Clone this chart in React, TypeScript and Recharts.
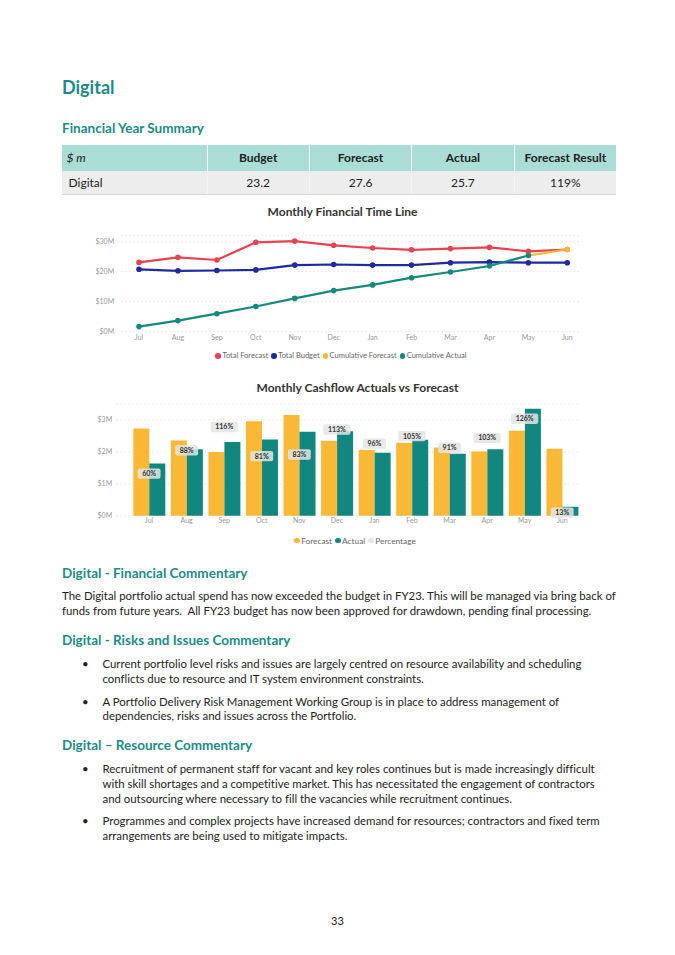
import React from "react";
import {
  LineChart,
  Line,
  ComposedChart,
  Bar,
  XAxis,
  YAxis,
  CartesianGrid,
  Legend,
  LabelList,
} from "recharts";

const months = ["Jul", "Aug", "Sep", "Oct", "Nov", "Dec", "Jan", "Feb", "Mar", "Apr", "May", "Jun"];

// Monthly Financial Time Line ($M)
const totalForecast = [23.1, 24.8, 23.9, 29.8, 30.2, 28.8, 27.9, 27.3, 27.7, 28.1, 26.8, 27.4];
const totalBudget = [20.8, 20.3, 20.4, 20.6, 22.2, 22.4, 22.2, 22.2, 23.0, 23.2, 23.0, 23.0];
const cumulativeForecast = [null, null, null, null, null, null, null, null, null, null, 25.4, 27.4];
const cumulativeActual = [1.7, 3.7, 6.0, 8.4, 11.1, 13.7, 15.6, 18.0, 19.9, 21.9, 25.4, null];

// Monthly Cashflow ($M)
const monthlyForecast = [2.73, 2.36, 2.0, 2.96, 3.16, 2.35, 2.06, 2.29, 2.14, 2.01, 2.66, 2.1];
const monthlyActual = [1.64, 2.08, 2.31, 2.39, 2.63, 2.65, 1.97, 2.38, 1.94, 2.08, 3.35, 0.28];
const percentage = [60, 88, 116, 81, 83, 113, 96, 105, 91, 103, 126, 13];

const summaryHeaders = ["$ m", "Budget", "Forecast", "Actual", "Forecast Result"];
const summaryRow = ["Digital", "23.2", "27.6", "25.7", "119%"];

const financialLines = [
  "The Digital portfolio actual spend has now exceeded the budget in FY23. This will be managed via bring back of",
  "funds from future years.  All FY23 budget has now been approved for drawdown, pending final processing.",
];
const riskBullets = [
  [
    "Current portfolio level risks and issues are largely centred on resource availability and scheduling",
    "conflicts due to resource and IT system environment constraints.",
  ],
  [
    "A Portfolio Delivery Risk Management Working Group is in place to address management of",
    "dependencies, risks and issues across the Portfolio.",
  ],
];
const resourceBullets = [
  [
    "Recruitment of permanent staff for vacant and key roles continues but is made increasingly difficult",
    "with skill shortages and a competitive market. This has necessitated the engagement of contractors",
    "and outsourcing where necessary to fill the vacancies while recruitment continues.",
  ],
  [
    "Programmes and complex projects have increased demand for resources; contractors and fixed term",
    "arrangements are being used to mitigate impacts.",
  ],
];

const timelineData = months.map((m, i) => ({
  month: m,
  totalForecast: totalForecast[i],
  totalBudget: totalBudget[i],
  cumulativeForecast: cumulativeForecast[i],
  cumulativeActual: cumulativeActual[i],
}));

const cashflowData = months.map((m, i) => ({
  month: m,
  forecast: monthlyForecast[i],
  actual: monthlyActual[i],
  pct: percentage[i],
}));

const FONT = "Lato, 'Noto Sans', sans-serif";
const TEAL_TEXT = "#1b8b88";
const RED = "#e8424f";
const NAVY = "#1e2a9e";
const YELLOW = "#f9b936";
const TEAL = "#16897e";
const BAR_TEAL = "#128780";

const tickStyle = { fontSize: 7, fill: "#999", fontFamily: FONT };

function LegendRow({ items, fontSize }: { items: { label: string; color: string }[]; fontSize: number }) {
  return (
    <div
      style={{
        display: "flex",
        justifyContent: "center",
        alignItems: "center",
        fontFamily: FONT,
        fontSize,
        color: "#666",
        lineHeight: "10px",
        whiteSpace: "nowrap",
      }}
    >
      {items.map((it) => (
        <span key={it.label} style={{ display: "inline-flex", alignItems: "center", marginRight: 3 }}>
          <span
            style={{
              display: "inline-block",
              width: 5.5,
              height: 5.5,
              borderRadius: "50%",
              background: it.color,
              marginRight: 1.5,
            }}
          />
          {it.label}
        </span>
      ))}
    </div>
  );
}

const PctLabel = (props: any) => {
  const x = props.x ?? props.viewBox?.x;
  const y = props.y ?? props.viewBox?.y;
  if (x == null || y == null) return null;
  const text = `${props.value}%`;
  const w = text.length * 4.3 + 10;
  return (
    <g>
      <rect x={x - w / 2} y={y - 5.2} width={w} height={10.4} rx={2} fill="#e4e4e4" fillOpacity={0.85} />
      <text x={x} y={y + 2.4} textAnchor="middle" fontSize={7} fontWeight={700} fill="#333" fontFamily={FONT}>
        {text}
      </text>
    </g>
  );
};

function TextLine({ top, left, text, size = 11.4, bold = false, color = "#222" }: any) {
  return (
    <div
      style={{
        position: "absolute",
        top,
        left,
        fontFamily: FONT,
        fontSize: size,
        fontWeight: bold ? 700 : 400,
        color,
        lineHeight: "15px",
        whiteSpace: "pre",
        fontVariantLigatures: "none",
      }}
    >
      {text}
    </div>
  );
}

function Bullets({ groups, startTop }: { groups: string[][]; startTop: number[] }) {
  return (
    <>
      {groups.map((lines, gi) => (
        <React.Fragment key={gi}>
          <TextLine top={startTop[gi]} left={82} text="•" />
          {lines.map((l, li) => (
            <TextLine key={li} top={startTop[gi] + li * 14.6} left={102.5} text={l} />
          ))}
        </React.Fragment>
      ))}
    </>
  );
}

const colWidths = [145, 102.4, 102.4, 102.4, 102.4];

export default function App() {
  return (
    <div style={{ position: "absolute", left: 0, top: 0, width: 675, height: 955, background: "#fff", overflow: "hidden" }}>
      {/* headings */}
      <TextLine top={80} left={62} text="Digital" size={18} bold color={TEAL_TEXT} />
      <TextLine top={121} left={62} text="Financial Year Summary" size={13.5} bold color={TEAL_TEXT} />

      {/* summary table */}
      <div style={{ position: "absolute", left: 61.5, top: 145, width: 554.6, fontFamily: FONT, fontSize: 12, color: "#222", borderBottom: "1px solid #d4d4d4" }}>
        <div style={{ display: "flex", height: 25.7, background: "#a9ddd5" }}>
          {summaryHeaders.map((h, i) => (
            <div
              key={h}
              style={{
                width: colWidths[i],
                display: "flex",
                alignItems: "center",
                justifyContent: i === 0 ? "flex-start" : "center",
                paddingLeft: i === 0 ? 5 : 0,
                boxSizing: "border-box",
                fontWeight: i === 0 ? 400 : 700,
                fontStyle: i === 0 ? "italic" : "normal",
                borderLeft: i === 0 ? "none" : "1px solid #ffffff",
              }}
            >
              {h}
            </div>
          ))}
        </div>
        <div style={{ display: "flex", height: 23.3, background: "#ededed" }}>
          {summaryRow.map((v, i) => (
            <div
              key={i}
              style={{
                width: colWidths[i],
                display: "flex",
                alignItems: "center",
                justifyContent: i === 0 ? "flex-start" : "center",
                paddingLeft: i === 0 ? 7 : 0,
                boxSizing: "border-box",
                borderLeft: i === 0 ? "none" : "1px solid #f6f6f6",
              }}
            >
              {v}
            </div>
          ))}
        </div>
      </div>

      {/* line chart */}
      <div style={{ position: "absolute", left: 0, top: 204.5, width: 675, textAlign: "center", fontFamily: FONT, fontSize: 12, fontWeight: 700, color: "#333", lineHeight: "14px", paddingLeft: 10, boxSizing: "border-box" }}>
        Monthly Financial Time Line
      </div>
      <div style={{ position: "absolute", left: 0, top: 225 }}>
        <LineChart width={675} height={140} data={timelineData} margin={{ top: 10.7, right: 95, bottom: 18.3, left: 81.7 }}>
          <CartesianGrid vertical={false} stroke="#d6d6d6" strokeDasharray="1 3" />
          <XAxis
            dataKey="month"
            height={15}
            padding={{ left: 17.3, right: 12.7 }}
            axisLine={false}
            tickLine={false}
            tickSize={0}
            tickMargin={3.5}
            tick={tickStyle}
            interval={0}
          />
          <YAxis
            width={40}
            domain={[0, 32]}
            ticks={[0, 10, 20, 30]}
            tickFormatter={(v) => `$${v}M`}
            axisLine={false}
            tickLine={false}
            tickSize={0}
            tickMargin={7.5}
            tick={tickStyle}
          />
          <Legend
            verticalAlign="middle"
            align="center"
            wrapperStyle={{ top: 126, left: 0, width: 675 }}
            content={() => (
              <div style={{ paddingLeft: 10 }}>
                <LegendRow
                  fontSize={7.5}
                  items={[
                    { label: "Total Forecast", color: RED },
                    { label: "Total Budget", color: NAVY },
                    { label: "Cumulative Forecast", color: YELLOW },
                    { label: "Cumulative Actual", color: TEAL },
                  ]}
                />
              </div>
            )}
          />
          <Line dataKey="totalForecast" stroke={RED} strokeWidth={2.2} dot={{ r: 2.8, fill: RED, strokeWidth: 0 }} isAnimationActive={false} />
          <Line dataKey="totalBudget" stroke={NAVY} strokeWidth={2.2} dot={{ r: 2.8, fill: NAVY, strokeWidth: 0 }} isAnimationActive={false} />
          <Line dataKey="cumulativeForecast" stroke={YELLOW} strokeWidth={2.2} dot={{ r: 2.8, fill: YELLOW, strokeWidth: 0 }} isAnimationActive={false} />
          <Line dataKey="cumulativeActual" stroke={TEAL} strokeWidth={2.2} dot={{ r: 2.8, fill: TEAL, strokeWidth: 0 }} isAnimationActive={false} />
        </LineChart>
      </div>

      {/* bar chart */}
      <div style={{ position: "absolute", left: 0, top: 381, width: 675, textAlign: "center", fontFamily: FONT, fontSize: 12, fontWeight: 700, color: "#333", lineHeight: "14px", paddingLeft: 40, boxSizing: "border-box" }}>
        Monthly Cashflow Actuals vs Forecast
      </div>
      <div style={{ position: "absolute", left: 0, top: 400 }}>
        <ComposedChart
          width={675}
          height={150}
          data={cashflowData}
          margin={{ top: 4.05, right: 94, bottom: 20.3, left: 76.7 }}
          barCategoryGap={3}
          barGap={0}
        >
          <CartesianGrid vertical={false} stroke="#d6d6d6" strokeDasharray="1 3" />
          <XAxis
            dataKey="month"
            height={14}
            padding={{ left: 13.6, right: 0 }}
            axisLine={false}
            tickLine={false}
            tickSize={0}
            tickMargin={2.5}
            tick={tickStyle}
            interval={0}
          />
          <YAxis
            width={40}
            domain={[0, 3.5]}
            ticks={[0, 1, 2, 3]}
            tickFormatter={(v) => `$${v}M`}
            axisLine={false}
            tickLine={false}
            tickSize={0}
            tickMargin={4.5}
            tick={tickStyle}
          />
          <YAxis yAxisId="pct" orientation="right" hide domain={[9.4, 143.6]} allowDataOverflow />
          <Legend
            verticalAlign="middle"
            align="center"
            wrapperStyle={{ top: 135.5, left: 0, width: 675 }}
            content={() => (
              <div style={{ paddingLeft: 38 }}>
                <LegendRow
                  fontSize={8.3}
                  items={[
                    { label: "Forecast", color: YELLOW },
                    { label: "Actual", color: BAR_TEAL },
                    { label: "Percentage", color: "#e6e6e6" },
                  ]}
                />
              </div>
            )}
          />
          <Bar dataKey="forecast" fill={YELLOW} isAnimationActive={false} />
          <Bar dataKey="actual" fill={BAR_TEAL} isAnimationActive={false} />
          <Line
            yAxisId="pct"
            dataKey="pct"
            stroke="none"
            dot={false}
            activeDot={false}
            isAnimationActive={false}
          >
            <LabelList dataKey="pct" content={PctLabel} />
          </Line>
        </ComposedChart>
      </div>

      {/* commentary */}
      <TextLine top={566} left={62} text="Digital - Financial Commentary" size={13.5} bold color={TEAL_TEXT} />
      {financialLines.map((l, i) => (
        <TextLine key={i} top={588 + i * 15} left={62} text={l} />
      ))}
      <TextLine top={633} left={62} text="Digital - Risks and Issues Commentary" size={13.5} bold color={TEAL_TEXT} />
      <Bullets groups={riskBullets} startTop={[656.3, 693.7]} />
      <TextLine top={738} left={62} text="Digital – Resource Commentary" size={13.5} bold color={TEAL_TEXT} />
      <Bullets groups={resourceBullets} startTop={[761.3, 813]} />

      <TextLine top={913} left={331} text="33" size={11} />
    </div>
  );
}
